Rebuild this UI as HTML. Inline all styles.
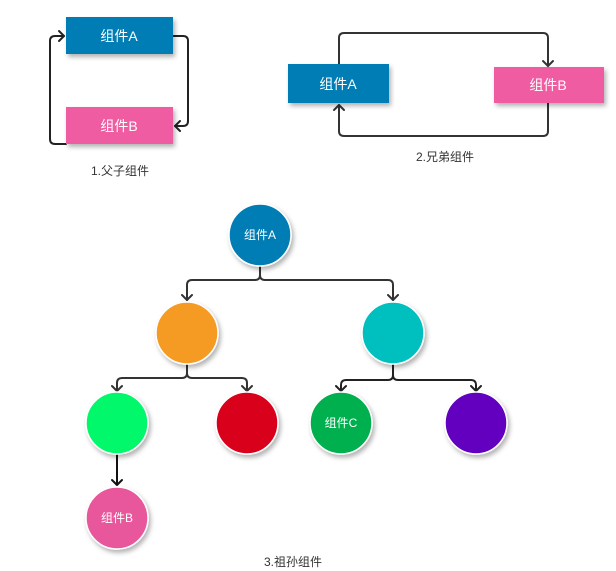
<!DOCTYPE html>
<html><head><meta charset="utf-8"><style>
html,body{margin:0;padding:0;background:#fff;}
svg{display:block;font-family:"Liberation Sans","Noto Sans CJK SC",sans-serif;}
</style></head><body>
<svg width="616" height="571" viewBox="0 0 616 571">
<defs>
<filter id="sh" x="-30%" y="-30%" width="160%" height="170%"><feDropShadow dx="2" dy="3" stdDeviation="2.5" flood-color="#000" flood-opacity="0.3"/></filter>
</defs>
<g fill="none" stroke="#222" stroke-width="2" stroke-linejoin="round" stroke-linecap="round">
<!-- parent child -->
<path d="M66 144 H55 Q50 144 50 139 V41 Q50 36 55 36 H64"/>
<path d="M59 31 L64 36 L59 41"/>
<path d="M173 36 H183 Q188 36 188 41 V121 Q188 126 183 126 H175"/>
<path d="M180 121 L175 126 L180 131"/>
<!-- siblings -->
<path stroke="#333" d="M339 64 V38 Q339 33 344 33 H543 Q548 33 548 38 V66"/>
<path stroke="#333" d="M543 61 L548 66 L553 61"/>
<path stroke="#333" d="M548 103 V131 Q548 136 543 136 H344 Q339 136 339 131 V105"/>
<path stroke="#333" d="M334 110 L339 105 L344 110"/>
<!-- tree -->
<path stroke="#333" d="M260 266 V275 Q260 280 255 280 H192 Q187 280 187 285 V300 M260 275 Q260 280 265 280 H388 Q393 280 393 285 V300"/>
<path stroke="#333" d="M182 295 L187 300 L192 295 M388 295 L393 300 L398 295"/>
<path stroke="#333" d="M187 364 V373 Q187 378 182 378 H122 Q117 378 117 383 V391 M187 373 Q187 378 192 378 H242 Q247 378 247 383 V391"/>
<path stroke="#333" d="M112 386 L117 391 L122 386 M242 386 L247 391 L252 386"/>
<path stroke="#222" d="M393 364 V375 Q393 380 388 380 H346 Q341 380 341 385 V391 M393 375 Q393 380 398 380 H471 Q476 380 476 385 V391"/>
<path stroke="#222" d="M336 386 L341 391 L346 386 M471 386 L476 391 L481 386"/>
<path stroke="#111" d="M117 455 V485 M112 480 L117 485 L122 480"/>
</g>
<g filter="url(#sh)">
<rect x="66" y="17" width="107" height="37" fill="#027db4"/>
<rect x="66" y="107" width="107" height="37" fill="#ef5ba1"/>
<rect x="288" y="64" width="101" height="39" fill="#027db4"/>
<rect x="494" y="67" width="110" height="36" fill="#ef5ba1"/>
</g>
<g stroke="#fff" stroke-width="1.5" filter="url(#sh)">
<circle cx="260" cy="235" r="31" fill="#027db4"/>
<circle cx="187" cy="333" r="31" fill="#f59a23"/>
<circle cx="393" cy="333" r="31" fill="#00bfbf"/>
<circle cx="117" cy="423" r="31" fill="#00f86a"/>
<circle cx="247" cy="423" r="31" fill="#d9001b"/>
<circle cx="341" cy="423" r="31" fill="#03b050"/>
<circle cx="476" cy="423" r="31" fill="#6300bf"/>
<circle cx="117" cy="518" r="31" fill="#e8579c"/>
</g>
<g fill="#fff" font-size="14" text-anchor="middle">
<text x="119" y="41">组件A</text>
<text x="119" y="131">组件B</text>
<text x="338" y="89">组件A</text>
<text x="548" y="90">组件B</text>
<text x="260" y="239" font-size="12">组件A</text>
<text x="341" y="427" font-size="12">组件C</text>
<text x="117" y="522" font-size="12">组件B</text>
</g>
<g fill="#333" font-size="12" text-anchor="middle">
<text x="120" y="175">1.父子组件</text>
<text x="445" y="161">2.兄弟组件</text>
<text x="293" y="566">3.祖孙组件</text>
</g>
</svg>
</body></html>
